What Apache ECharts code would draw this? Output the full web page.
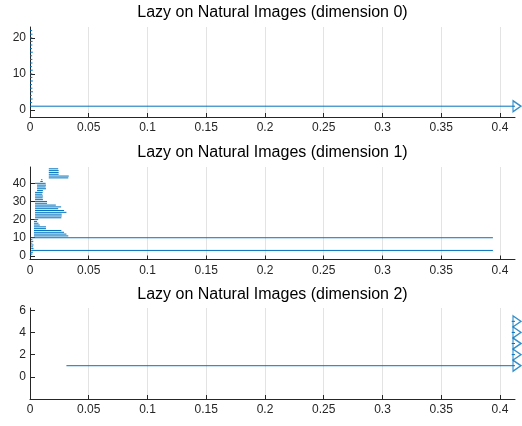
<!DOCTYPE html>
<html><head><meta charset="utf-8">
<script src="https://cdn.jsdelivr.net/npm/echarts@6/dist/echarts.min.js"></script>
<style>html,body{margin:0;padding:0;background:#fff}#c{width:522px;height:426px}</style>
</head><body><div id="c"></div>
<script>
// ---- data ----
const titles = [
  'Lazy on Natural Images (dimension 0)',
  'Lazy on Natural Images (dimension 1)',
  'Lazy on Natural Images (dimension 2)'
];
const xTicks = [0, 0.05, 0.1, 0.15, 0.2, 0.25, 0.3, 0.35, 0.4];
const xMax = 0.4128;
const yTicks0 = [0, 10, 20];
const yTicks1 = [0, 10, 20, 30, 40];
const yTicks2 = [0, 2, 4, 6];
const yRange0 = [-2, 23];
const yRange1 = [-2, 49];
const yRange2 = [-2, 6.2];

// dimension 0 bars (index 1..22)
const dim0Birth = [0, 0, 0, 0, 0, 0, 0, 0, 0, 0, 0, 0, 0, 0, 0, 0, 0, 0, 0, 0, 0, 0];
const dim0Death = [Infinity, 0.0018, 0.0022, 0.0015, 0.0025, 0.002, 0.0017, 0.0024, 0.002, 0.0019, 0.0023,
                   0.0016, 0.0021, 0.002, 0.0018, 0.0024, 0.0017, 0.002, 0.0022, 0.0019, 0.0021, 0.0018];

// dimension 1 bars (index 1..48)
const dim1Birth = [0, 0, 0.001, 0.001, 0.001, 0.001, 0.001, 0.001, 0.001, 0.001,
                   0.0034, 0.0034, 0.0034, 0.0034, 0.0034, 0.0034, 0.0034, 0.0034, 0.0034, 0.0034,
                   0.0043, 0.0043, 0.0043, 0.0043, 0.0043, 0.0043, 0.0043, 0.0043, 0.0043, 0.0043,
                   0.0043, 0.0043, 0.0043, 0.0043, 0.0043, 0.006, 0.006, 0.006, 0.006, 0.0043,
                   0.0088, 0.0095, 0.016, 0.016, 0.016, 0.016, 0.016, 0.016];
const dim1Death = [0.002, 0.0025, 0.394, 0.003, 0.0025, 0.003, 0.002, 0.0028, 0.002, 0.394,
                   0.0326, 0.031, 0.029, 0.0267, 0.0136, 0.0136, 0.0083, 0.0072, 0.006, 0.007,
                   0.0267, 0.027, 0.027, 0.031, 0.029, 0.024, 0.0265, 0.022, 0.0145, 0.0145,
                   0.011, 0.0108, 0.011, 0.0105, 0.0108, 0.011, 0.0136, 0.0133, 0.0136, 0.0133,
                   0.0109, 0.0105, 0.0326, 0.033, 0.0244, 0.0244, 0.0244, 0.024];

// dimension 2 bars (index 1..5)
const dim2Birth = [0.031, 0.41, 0.41, 0.41, 0.41];
const dim2Death = [Infinity, Infinity, Infinity, Infinity, Infinity];

// ---- build ----
const BLUE = '#0072BD';
const INK = '#262626';
const FONT = 'Liberation Sans, Arial, sans-serif';
const grids = [
  {left: 30, right: 7, top: 27, height: 90},
  {left: 30, right: 7, top: 167, height: 92.5},
  {left: 30, right: 7, top: 308, height: 91}
];
const titleTops = [5, 145, 287];
const yTickSets = [yTicks0, yTicks1, yTicks2];
const yRanges = [yRange0, yRange1, yRange2];
const births = [dim0Birth, dim1Birth, dim2Birth];
const deaths = [dim0Death, dim1Death, dim2Death];

function renderBar(params, api) {
  const y = api.value(2);
  const p1 = api.coord([api.value(0), y]);
  const p2 = api.coord([api.value(1), y]);
  return {type: 'line', shape: {x1: p1[0], y1: p1[1], x2: p2[0], y2: p2[1]},
          style: {stroke: BLUE, lineWidth: 1}};
}

const option = {
  animation: false,
  backgroundColor: '#fff',
  textStyle: {fontFamily: FONT},
  title: titles.map((t, i) => ({
    text: t, left: 272.5, top: titleTops[i], textAlign: 'center', padding: 0,
    textStyle: {fontSize: 16, fontWeight: 'normal', color: '#000', fontFamily: FONT}
  })),
  grid: grids,
  xAxis: grids.map((g, i) => ({
    type: 'value', gridIndex: i, min: 0, max: xMax,
    axisLine: {show: true, onZero: false, lineStyle: {color: INK, width: 1}},
    axisTick: {show: true, inside: true, length: 4, customValues: xTicks, lineStyle: {color: INK}},
    axisLabel: {customValues: xTicks, color: INK, fontSize: 12, margin: 5, fontFamily: FONT},
    splitLine: {show: true, lineStyle: {color: '#e3e3e3', width: 1}}
  })),
  yAxis: grids.map((g, i) => ({
    type: 'value', gridIndex: i, min: yRanges[i][0], max: yRanges[i][1],
    axisLine: {show: true, onZero: false, lineStyle: {color: INK, width: 1}},
    axisTick: {show: true, inside: true, length: 5, customValues: yTickSets[i], lineStyle: {color: INK}},
    axisLabel: {customValues: yTickSets[i], color: INK, fontSize: 12, margin: 4, fontFamily: FONT},
    splitLine: {show: false}
  })),
  series: []
};

for (let i = 0; i < 3; i++) {
  const barData = births[i].map((b, k) => [b, Math.min(deaths[i][k], xMax), k + 1]);
  const infData = [];
  deaths[i].forEach((d, k) => { if (d === Infinity) infData.push([xMax, k + 1]); });
  option.series.push({
    type: 'custom', xAxisIndex: i, yAxisIndex: i, renderItem: renderBar,
    encode: {x: [0, 1], y: 2}, data: barData, clip: false
  });
  option.series.push({
    type: 'scatter', xAxisIndex: i, yAxisIndex: i, data: infData, clip: false,
    symbol: 'path://M0,0L10,6L0,12Z', symbolSize: [8, 11], symbolOffset: [2, 0],
    itemStyle: {color: 'rgba(255,255,255,0)', borderColor: BLUE, borderWidth: 1.3}
  });
}

const chart = echarts.init(document.getElementById('c'), null, {renderer: 'canvas'});
chart.setOption(option);
</script>
</body></html>
